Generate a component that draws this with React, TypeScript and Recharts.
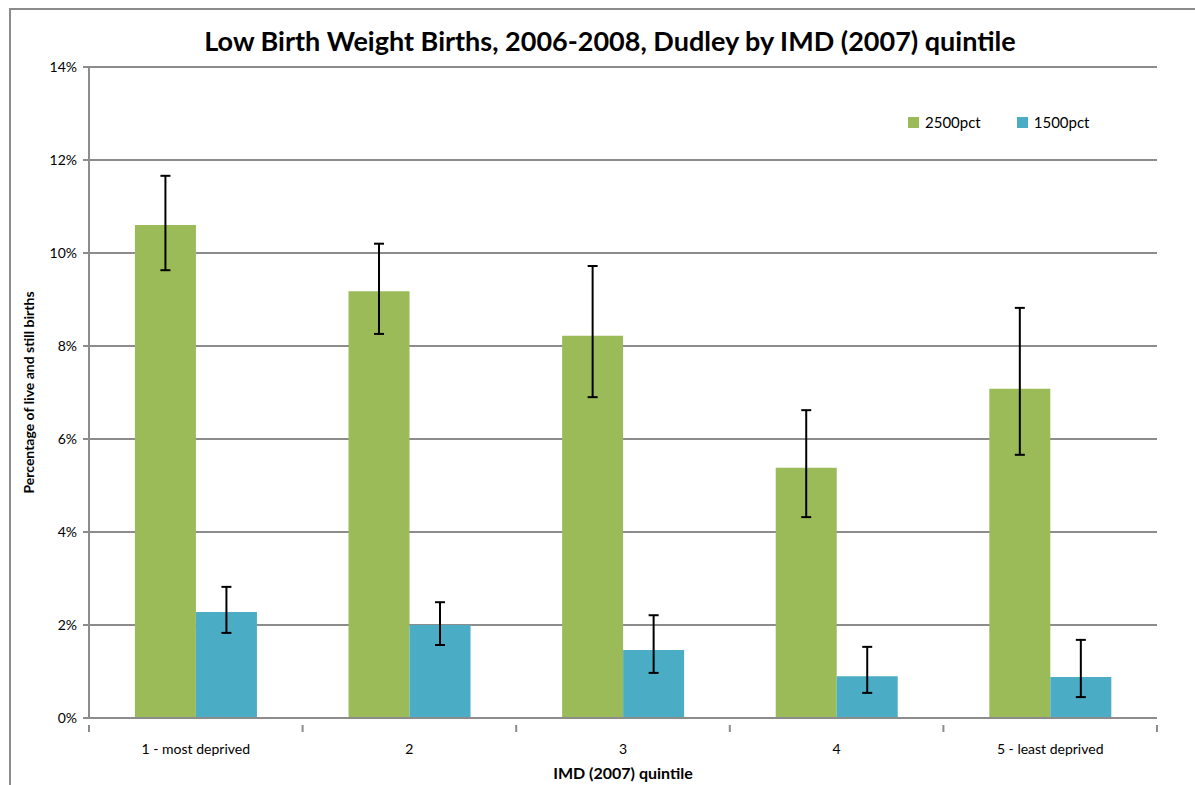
import React from 'react';
import { BarChart, Bar, XAxis, YAxis, CartesianGrid, ErrorBar } from 'recharts';

const categories = ['1 - most deprived', '2', '3', '4', '5 - least deprived'];
const pct2500 = [10.6, 9.18, 8.22, 5.38, 7.08];
const pct2500Low = [9.63, 8.26, 6.9, 4.32, 5.66];
const pct2500High = [11.66, 10.2, 9.72, 6.62, 8.82];
const pct1500 = [2.28, 2.0, 1.46, 0.9, 0.88];
const pct1500Low = [1.83, 1.57, 0.97, 0.54, 0.45];
const pct1500High = [2.82, 2.49, 2.21, 1.53, 1.68];
const yTicks = [0, 2, 4, 6, 8, 10, 12, 14];
const seriesNames = ['2500pct', '1500pct'];
const seriesColors = ['#9bbb59', '#4bacc6'];

const data = categories.map((name, i) => ({
    name,
    '2500pct': pct2500[i],
    '1500pct': pct1500[i],
    err2500: [pct2500[i] - pct2500Low[i], pct2500High[i] - pct2500[i]],
    err1500: [pct1500[i] - pct1500Low[i], pct1500High[i] - pct1500[i]],
}));

const FONT = 'Lato, "Open Sans", sans-serif';
const AXIS = '#8c8c8c';
const CHART_W = 1195;
const CHART_H = 785;
const PLOT_LEFT = 89;
const PLOT_RIGHT = 38;
const HALF_BAND = (CHART_W - PLOT_LEFT - PLOT_RIGHT) / categories.length / 2;

const CategoryTick = (props: any) => {
    const { x, y, payload, index } = props;
    const last = index === categories.length - 1;
    return (
        <g>
            <line x1={x - HALF_BAND} x2={x - HALF_BAND} y1={y - 1} y2={y + 6} stroke={AXIS} strokeWidth={2} />
            {last && <line x1={x + HALF_BAND} x2={x + HALF_BAND} y1={y - 1} y2={y + 6} stroke={AXIS} strokeWidth={2} />}
            <text x={x} y={y + 28} textAnchor="middle" fontSize={14} fill="#000" fontFamily={FONT}>
                {payload.value}
            </text>
        </g>
    );
};

const App = () => {
    return (
        <div style={{ position: 'absolute', left: 0, top: 0, width: CHART_W, height: CHART_H, overflow: 'hidden', background: '#fff', fontFamily: FONT }}>
            <div style={{ position: 'absolute', left: 9, top: 8, width: 1300, height: 900, border: `2px solid ${AXIS}`, boxSizing: 'border-box' }} />
            <div style={{ position: 'absolute', left: 0, top: 24, width: 1220, textAlign: 'center', fontSize: 27, fontWeight: 700, color: '#000', lineHeight: '34px' }}>
                Low Birth Weight Births, 2006-2008, Dudley by IMD (2007) quintile
            </div>
            <div style={{ position: 'absolute', left: 908, top: 113, display: 'flex', alignItems: 'center', fontSize: 15, color: '#000' }}>
                {seriesNames.map((n, i) => (
                    <div key={n} style={{ display: 'flex', alignItems: 'center', marginRight: 36 }}>
                        <span style={{ width: 11, height: 11, background: seriesColors[i], marginRight: 6, display: 'inline-block' }} />
                        <span>{n}</span>
                    </div>
                ))}
            </div>
            <BarChart
                width={CHART_W}
                height={CHART_H}
                data={data}
                margin={{ top: 67, right: PLOT_RIGHT, left: 0, bottom: 0 }}
                barCategoryGap="21.5%"
                barGap={0}
                style={{ position: 'absolute', left: 0, top: 0 }}
            >
                <CartesianGrid vertical={false} stroke={AXIS} strokeWidth={2} />
                <XAxis
                    dataKey="name"
                    height={67}
                    tickLine={false}
                    axisLine={{ stroke: AXIS, strokeWidth: 2 }}
                    tick={<CategoryTick />}
                    interval={0}
                    label={{ value: 'IMD (2007) quintile', position: 'insideBottom', offset: 6, fontSize: 16, fontWeight: 700, fill: '#000', fontFamily: FONT }}
                />
                <YAxis
                    width={PLOT_LEFT}
                    domain={[0, 14]}
                    ticks={yTicks}
                    tickFormatter={(v) => `${v}%`}
                    tickSize={6}
                    tickMargin={6}
                    tickLine={{ stroke: AXIS, strokeWidth: 2 }}
                    axisLine={{ stroke: AXIS, strokeWidth: 2 }}
                    tick={{ fontSize: 14, fill: '#000', fontFamily: FONT }}
                    label={{ value: 'Percentage of live and still births', angle: -90, position: 'insideLeft', offset: 29, fontSize: 14, fontWeight: 700, fill: '#000', fontFamily: FONT, style: { textAnchor: 'middle' } }}
                />
                {seriesNames.map((n, i) => (
                    <Bar key={n} dataKey={n} fill={seriesColors[i]} isAnimationActive={false}>
                        <ErrorBar dataKey={i === 0 ? 'err2500' : 'err1500'} width={5} stroke="#000" strokeWidth={2} />
                    </Bar>
                ))}
            </BarChart>
        </div>
    );
};

export default App;
